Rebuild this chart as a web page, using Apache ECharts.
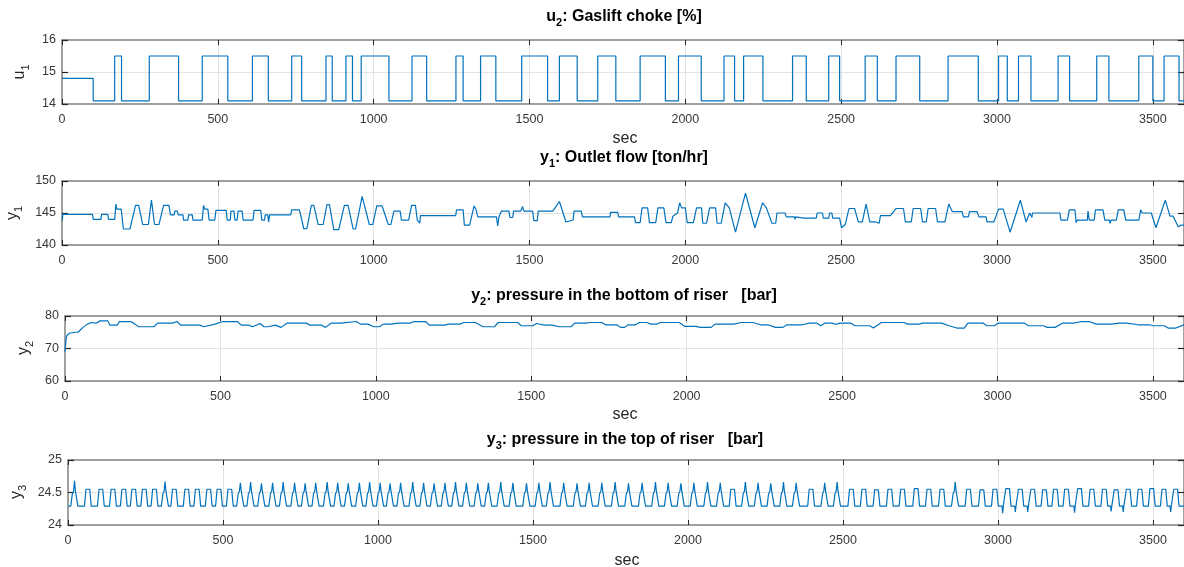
<!DOCTYPE html>
<html>
<head>
<meta charset="utf-8">
<title>Gaslift riser response</title>
<script src="https://cdn.jsdelivr.net/npm/echarts@6/dist/echarts.min.js"></script>
<style>
  html, body { margin: 0; padding: 0; background: #ffffff; }
  #chart { width: 1184px; height: 567px; }
</style>
</head>
<body>
<div id="chart"></div>
<script>
// ---- time axis (seconds) ----
const xTicks = [0, 500, 1000, 1500, 2000, 2500, 3000, 3500];
const xEnd = 3600;

// ---- y tick values for each panel ----
const u1Ticks = [14, 15, 16];
const y1Ticks = [140, 145, 150];
const y2Ticks = [60, 70, 80];
const y3Ticks = [24, 24.5, 25];

// ---- u1: gas-lift choke opening (step signal: switch time / new value) ----
const u1Time = [0, 100, 169, 191, 280, 374, 450, 532, 611, 662, 737, 769, 847, 867, 911, 932,
  960, 1049, 1123, 1170, 1264, 1287, 1343, 1392, 1475, 1558, 1596, 1653, 1719, 1777, 1855, 1936,
  1978, 2051, 2124, 2158, 2187, 2249, 2344, 2388, 2460, 2495, 2577, 2616, 2676, 2752, 2843, 2940,
  3005, 3033, 3069, 3109, 3196, 3233, 3320, 3359, 3455, 3500, 3536, 3584, 3600];
const u1Value = [14.8, 14.1, 15.5, 14.1, 15.5, 14.1, 15.5, 14.1, 15.5, 14.1, 15.5, 14.1, 15.5, 14.1, 15.5, 14.1,
  15.5, 14.1, 15.5, 14.1, 15.5, 14.1, 15.5, 14.1, 15.5, 14.1, 15.5, 14.1, 15.5, 14.1, 15.5, 14.1,
  15.5, 14.1, 15.5, 14.1, 15.5, 14.1, 15.5, 14.1, 15.5, 14.1, 15.5, 14.1, 15.5, 14.1, 15.5, 14.1,
  15.5, 14.1, 15.5, 14.1, 15.5, 14.1, 15.5, 14.1, 15.5, 14.1, 15.5, 14.1, 14.1];

// ---- y1: outlet flow [ton/hr] ----
const y1Points = [
  [0,143.8],[3,144.8],[98,144.8],[100,144.0],[125,144.0],[127,144.8],[147,144.8],[149,144.0],[169,144.0],
  [173,146.4],[176,145.6],[190,145.6],[197,142.5],[218,142.5],[236,146.2],[246,146.2],[259,143.2],[277,143.2],
  [287,147.0],[297,143.2],[311,143.2],[326,146.2],[343,146.2],[348,144.7],[360,144.7],[362,145.3],[370,145.3],
  [373,144.7],[388,144.7],[390,143.9],[404,143.9],[406,144.7],[418,144.7],[420,143.9],[450,143.9],[454,146.2],
  [458,145.6],[468,145.6],[472,143.9],[490,143.9],[494,145.4],[527,145.4],[530,143.9],[540,143.9],[542,145.3],
  [552,145.3],[555,143.9],[562,143.9],[565,145.3],[578,145.3],[581,143.9],[613,143.9],[616,145.4],[638,145.4],
  [641,143.9],[650,143.9],[652,144.7],[660,144.7],[663,143.6],[666,144.7],[734,144.7],[737,145.5],[762,145.5],
  [776,142.5],[786,142.6],[800,146.2],[808,146.2],[822,143.2],[838,143.2],[850,146.3],[858,146.3],[872,142.4],
  [888,142.4],[906,146.2],[918,146.2],[934,142.5],[942,142.5],[963,147.6],[986,143.2],[997,143.2],[1010,146.1],
  [1027,146.1],[1047,143.2],[1055,143.2],[1065,145.3],[1085,145.3],[1089,143.9],[1112,143.9],[1122,146.2],
  [1134,146.2],[1140,143.9],[1146,143.9],[1148,143.4],[1150,144.6],[1263,144.6],[1266,145.5],[1287,145.5],
  [1291,143.1],[1308,143.1],[1322,146.1],[1328,145.6],[1334,144.4],[1394,144.4],[1398,143.0],[1402,144.4],
  [1410,145.3],[1434,145.3],[1437,144.3],[1446,144.3],[1449,145.3],[1472,145.3],[1478,146.0],[1482,145.3],
  [1510,145.3],[1514,143.8],[1525,143.8],[1528,145.3],[1575,145.3],[1596,146.8],[1617,143.6],[1640,143.9],
  [1643,145.3],[1666,145.3],[1670,144.4],[1758,144.4],[1760,145.1],[1783,145.1],[1786,144.4],[1837,144.4],
  [1840,143.5],[1855,143.5],[1861,145.8],[1879,145.8],[1885,143.5],[1905,143.5],[1912,145.8],[1931,145.8],
  [1938,143.5],[1955,143.5],[1960,144.5],[1975,145.0],[1982,146.6],[1988,145.8],[2000,145.8],[2006,143.5],
  [2026,143.5],[2036,145.8],[2052,145.8],[2056,143.4],[2068,143.4],[2078,145.8],[2097,145.8],[2102,143.4],
  [2115,143.4],[2128,146.6],[2141,145.8],[2161,142.0],[2193,148.1],[2223,142.7],[2248,146.6],[2260,145.8],
  [2278,143.4],[2290,143.4],[2294,145.0],[2320,145.0],[2324,144.4],[2350,144.4],[2352,144.0],[2354,144.4],
  [2380,144.2],[2382,143.9],[2384,144.2],[2420,144.2],[2423,145.0],[2440,145.0],[2443,144.2],[2460,144.2],
  [2463,145.0],[2470,145.0],[2473,144.2],[2495,144.2],[2501,142.7],[2513,143.2],[2525,145.7],[2543,145.7],
  [2555,143.6],[2568,143.6],[2580,146.4],[2592,143.6],[2610,143.6],[2622,143.4],[2626,144.6],[2658,144.6],
  [2676,145.7],[2700,145.7],[2706,143.6],[2725,143.6],[2731,145.7],[2755,145.7],[2761,143.6],[2773,143.6],
  [2779,145.7],[2803,145.7],[2809,143.6],[2833,143.6],[2845,146.4],[2857,145.2],[2888,145.2],[2892,144.4],
  [2908,144.4],[2912,145.2],[2936,145.2],[2942,144.4],[2965,144.4],[2968,143.6],[2990,143.6],[3005,145.6],
  [3020,145.6],[3042,142.0],[3075,147.0],[3093,143.6],[3105,145.0],[3110,145.0],[3112,144.3],[3114,145.0],
  [3202,145.0],[3205,143.9],[3226,143.9],[3232,145.5],[3250,145.5],[3254,143.5],[3258,143.9],[3290,143.9],
  [3292,145.3],[3296,143.9],[3312,143.9],[3316,145.5],[3340,145.5],[3346,143.9],[3360,143.9],[3363,143.4],
  [3366,143.9],[3383,143.9],[3389,145.5],[3407,145.5],[3413,143.9],[3455,143.9],[3461,145.5],[3466,145.0],
  [3495,145.0],[3510,142.7],[3540,147.0],[3555,144.5],[3565,144.5],[3582,142.8],[3590,143.1],[3600,143.1]
];

// ---- y2: pressure at the bottom of the riser [bar] ----
const y2Points = [
  [0,69.0],[3,72.5],[6,74.0],[14,74.7],[33,75.0],[42,75.0],[58,76.5],[72,77.5],[85,78.0],[100,77.8],
  [113,78.5],[138,78.5],[144,77.2],[168,77.2],[175,78.3],[193,78.3],[199,77.7],[212,78.3],[225,77.5],
  [237,76.7],[286,76.7],[298,77.8],[347,77.8],[360,78.3],[372,77.2],[434,77.2],[446,76.7],[483,77.5],
  [508,78.3],[554,78.3],[567,77.2],[591,77.2],[603,76.7],[628,77.7],[640,76.7],[653,76.7],[677,77.2],
  [695,76.5],[714,77.8],[776,77.8],[788,77.2],[825,77.2],[838,76.5],[856,77.8],[887,77.8],[893,78.3],
  [938,78.3],[950,77.5],[975,77.5],[993,76.7],[1012,76.7],[1024,77.5],[1049,77.5],[1073,77.8],[1110,77.8],
  [1123,78.3],[1160,78.3],[1172,77.2],[1221,77.2],[1234,77.5],[1270,77.5],[1283,78.0],[1320,78.0],
  [1345,76.7],[1382,76.7],[1394,78.0],[1456,78.0],[1468,77.0],[1505,77.0],[1517,77.7],[1542,77.2],
  [1566,77.2],[1591,76.7],[1628,76.7],[1640,77.8],[1677,77.8],[1690,78.0],[1727,78.0],[1739,77.3],
  [1775,77.3],[1787,76.5],[1800,76.5],[1812,77.3],[1836,77.3],[1848,78.0],[1872,78.0],[1885,77.5],
  [1903,77.5],[1915,78.0],[1976,78.0],[1994,76.8],[2030,76.8],[2043,76.5],[2079,76.5],[2091,77.5],
  [2152,77.5],[2176,78.0],[2213,78.0],[2237,77.3],[2261,77.3],[2286,76.5],[2310,76.5],[2322,77.3],
  [2371,77.3],[2395,77.8],[2419,77.8],[2431,77.0],[2444,77.8],[2468,77.8],[2480,77.4],[2492,77.8],
  [2529,77.8],[2541,77.0],[2589,77.0],[2601,76.3],[2626,78.0],[2699,78.0],[2711,77.5],[2747,77.5],
  [2759,77.8],[2820,77.8],[2844,77.0],[2869,76.3],[2893,76.3],[2905,77.8],[2954,77.8],[2966,77.0],
  [2990,77.0],[3002,77.8],[3087,77.8],[3100,77.0],[3148,77.0],[3160,76.5],[3185,76.5],[3209,77.8],
  [3245,77.8],[3270,78.3],[3294,78.3],[3318,77.5],[3367,77.5],[3391,77.8],[3416,77.8],[3452,77.3],
  [3489,77.3],[3501,77.0],[3537,77.0],[3549,76.3],[3574,76.3],[3600,77.3]
];

// ---- y3: pressure at the top of the riser [bar], one entry per oscillation ----
const y3Floor = 24.29;
const y3Cycle = [21,64,106,145,180,212,246,279,313,343,383,417,454,487,
  522,556,589,624,660,694,731,765,799,836,870,904,940,973,1007,1039,1073,1112,1147,1181,1216,1250,
  1285,1322,1356,1396,1435,1479,1519,1555,1599,1642,1681,
  1722,1765,1808,1852,1895,1936,1977,2019,2063,2104,2144,2185,2226,2267,2308,2349,2397,2441,2481,
  2527,2567,2608,2651,2692,2736,2777,2819,2862,2905,2948,2990,3031,3072,3112,3150,3185,3221,3263,
  3303,3343,3381,3420,3458,3496,3535,3573];
const y3Top = [24.68,24.55,24.55,24.55,24.55,24.55,24.55,24.55,24.67,24.55,24.55,24.55,24.55,24.55,
  24.55,24.65,24.66,24.64,24.65,24.66,24.65,24.64,24.65,24.66,24.65,24.64,24.65,24.66,24.65,24.64,24.65,
  24.66,24.65,24.64,24.65,24.66,24.65,24.64,24.65,24.66,24.65,24.64,24.65,24.66,24.65,24.64,24.65,
  24.65,24.66,24.64,24.65,24.66,24.65,24.64,24.65,24.66,24.65,24.55,24.66,24.65,24.64,24.66,24.65,24.55,24.65,24.66,
  24.55,24.55,24.54,24.55,24.55,24.56,24.55,24.55,24.66,24.55,24.54,24.55,24.56,24.55,24.55,24.54,24.55,
  24.55,24.56,24.55,24.55,24.54,24.55,24.55,24.56,24.55,24.55];
const y3DipCycle = [3031, 3072, 3112, 3263, 3381, 3420, 3573];
const y3DipValue = [24.18, 24.20, 24.20, 24.19, 24.21, 24.20, 24.20];

// expand the per-oscillation table into the line's vertices
function buildY3() {
  const pts = [[0, y3Floor]];
  y3Cycle.forEach(function (t, i) {
    const top = y3Top[i];
    const d = y3DipCycle.indexOf(t);
    if (d >= 0) {
      pts.push([t - 18, y3Floor], [t - 16, y3DipValue[d]], [t - 14, y3Floor]);
    }
    if (top > 24.6) {
      pts.push([t - 12, y3Floor], [t - 7, 24.48], [t - 3, 24.52], [t, top],
               [t + 3, 24.52], [t + 7, 24.49], [t + 11, y3Floor]);
    } else {
      pts.push([t - 11, y3Floor], [t - 6, top], [t + 6, top], [t + 11, y3Floor]);
    }
  });
  pts.push([xEnd, y3Floor]);
  return pts;
}

const u1Points = u1Time.map(function (t, i) { return [t, u1Value[i]]; });

// ---- drawing ----
const FONT = '"Liberation Sans", Arial, Helvetica, sans-serif';
const BOX = '#808080';
const TICK = '#262626';
const GRIDLINE = '#e2e2e2';
const LABEL = '#383838';
const LINE = '#0072BD';

const frames = [
  { left: 62, top: 40, height: 64 },
  { left: 62, top: 181, height: 64 },
  { left: 65, top: 316, height: 65 },
  { left: 68, top: 460, height: 65 }
];
const yTickSets = [u1Ticks, y1Ticks, y2Ticks, y3Ticks];
const panelData = [u1Points, y1Points, y2Points, buildY3()];
const plainNumber = function (v) { return String(v); };

const grids = [], xAxes = [], yAxes = [], series = [];
frames.forEach(function (f, i) {
  grids.push({ left: f.left, top: f.top, width: 1185 - f.left, height: f.height, show: false });

  const xCommon = {
    type: 'value', gridIndex: i, min: xTicks[0], max: xEnd, interval: xTicks[1] - xTicks[0],
    axisLine: { show: true, onZero: false, lineStyle: { color: BOX, width: 1.5 } },
    axisTick: { show: true, inside: true, length: 5, lineStyle: { color: TICK, width: 1 } }
  };
  xAxes.push(Object.assign({}, xCommon, {
    position: 'bottom',
    axisLabel: { show: true, margin: 9, color: LABEL, fontSize: 12.5, fontFamily: FONT,
                 showMaxLabel: false, formatter: plainNumber },
    splitLine: { show: true, showMinLine: false, showMaxLine: false, lineStyle: { color: GRIDLINE, width: 1 } }
  }));
  xAxes.push(Object.assign({}, xCommon, {
    position: 'top', axisLabel: { show: false }, splitLine: { show: false }
  }));

  const t = yTickSets[i];
  const yCommon = {
    type: 'value', gridIndex: i, min: t[0], max: t[2], interval: t[1] - t[0],
    axisLine: { show: true, onZero: false, lineStyle: { color: BOX, width: 1.5 } },
    axisTick: { show: true, inside: true, length: 6, lineStyle: { color: TICK, width: 1.2 } }
  };
  yAxes.push(Object.assign({}, yCommon, {
    position: 'left',
    axisLabel: { show: true, margin: 6, color: LABEL, fontSize: 12.5, fontFamily: FONT, formatter: plainNumber },
    splitLine: { show: true, showMinLine: false, showMaxLine: false, lineStyle: { color: GRIDLINE, width: 1 } }
  }));
  yAxes.push(Object.assign({}, yCommon, {
    position: 'right', axisLabel: { show: false }, splitLine: { show: false }
  }));

  series.push({
    type: 'line', xAxisIndex: 2 * i, yAxisIndex: 2 * i,
    data: panelData[i], showSymbol: false, symbol: 'none',
    step: i === 0 ? 'end' : false,
    lineStyle: { color: LINE, width: 1.2 },
    silent: true, animation: false, clip: true
  });
});

const titleRich = {
  m: { fontFamily: FONT, fontSize: 16, fontWeight: 'bold', fill: '#000000', lineHeight: 19, verticalAlign: 'top' },
  s: { fontFamily: FONT, fontSize: 11, fontWeight: 'bold', fill: '#000000', lineHeight: 12, padding: [9, 0, 0, 0], verticalAlign: 'top' }
};
const nameRich = {
  m: { fontFamily: FONT, fontSize: 16, fill: '#262626', lineHeight: 19, verticalAlign: 'top' },
  s: { fontFamily: FONT, fontSize: 11, fill: '#262626', lineHeight: 12, padding: [9, 0, 0, 0], verticalAlign: 'top' }
};

function titleText(text, x, y) {
  return { type: 'text', x: x, y: y, z: 10, silent: true,
    style: { text: text, rich: titleRich, align: 'center', verticalAlign: 'middle' } };
}
function axisName(text, x, y) {
  return { type: 'text', x: x, y: y, rotation: Math.PI / 2, z: 10, silent: true,
    style: { text: text, rich: nameRich, align: 'center', verticalAlign: 'middle' } };
}
function plainText(text, x, y) {
  return { type: 'text', x: x, y: y, z: 10, silent: true,
    style: { text: text, fontFamily: FONT, fontSize: 16, fill: '#262626', align: 'center', verticalAlign: 'middle' } };
}

const graphics = [
  titleText('{m|u}{s|2}{m|: Gaslift choke [%]}', 624, 18),
  titleText('{m|y}{s|1}{m|: Outlet flow [ton/hr]}', 624, 159),
  titleText('{m|y}{s|2}{m|: pressure in the bottom of riser   [bar]}', 624, 297),
  titleText('{m|y}{s|3}{m|: pressure in the top of riser   [bar]}', 625, 441),
  axisName('{m|u}{s|1}', 21, 72),
  axisName('{m|y}{s|1}', 14, 213),
  axisName('{m|y}{s|2}', 25, 348),
  axisName('{m|y}{s|3}', 18, 492),
  plainText('sec', 625, 139),
  plainText('sec', 625, 415),
  plainText('sec', 627, 561)
];

const chart = echarts.init(document.getElementById('chart'), null, { renderer: 'canvas' });
chart.setOption({
  backgroundColor: '#ffffff',
  animation: false,
  grid: grids,
  xAxis: xAxes,
  yAxis: yAxes,
  series: series,
  graphic: graphics
});
</script>
</body>
</html>
